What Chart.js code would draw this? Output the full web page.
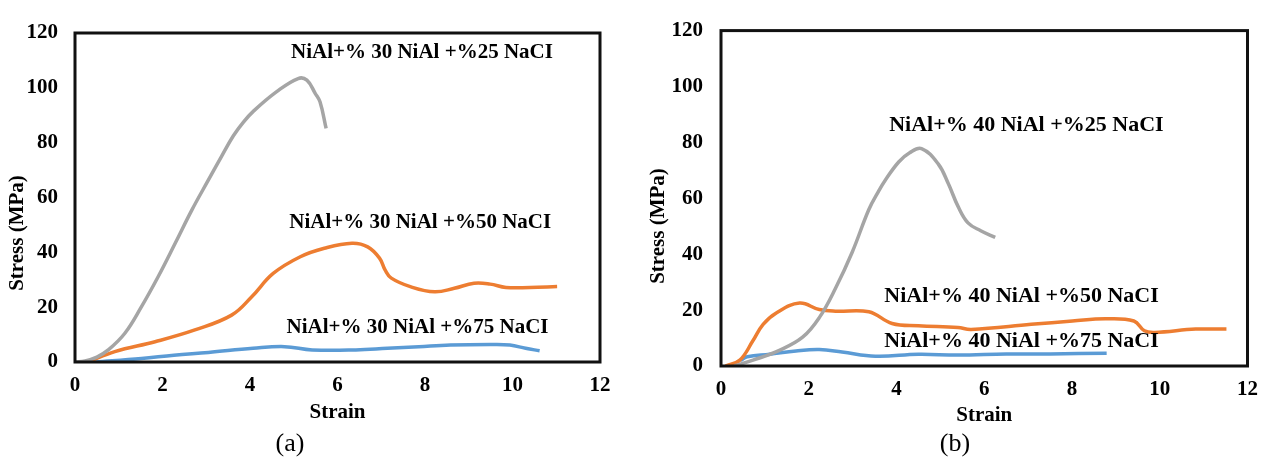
<!DOCTYPE html>
<html>
<head>
<meta charset="utf-8">
<script src="https://cdn.jsdelivr.net/npm/chart.js@4.4.1/dist/chart.umd.min.js"></script>
<style>
  body { margin: 0; background: #fff; width: 1269px; height: 463px; overflow: hidden; position: relative; font-family: "Liberation Serif", "Times New Roman", serif; }
  .box { position: absolute; top: 0; height: 463px; }
  #boxA { left: 0; width: 630px; }
  #boxB { left: 630px; width: 639px; }
  .caption { position: absolute; top: 428px; width: 60px; margin-left: -30px; text-align: center; font-size: 26px; line-height: 30px; color: #000; }
</style>
</head>
<body>
<div class="box" id="boxA"><canvas id="chartA" width="630" height="463"></canvas></div>
<div class="box" id="boxB"><canvas id="chartB" width="639" height="463"></canvas></div>
<div class="caption" style="left:290px">(a)</div>
<div class="caption" style="left:955px">(b)</div>
<script>
// ---- data: strain (x) and stress in MPa (y) ----
const xTicks = [0, 2, 4, 6, 8, 10, 12];
const yTicks = [0, 20, 40, 60, 80, 100, 120];

// (a) NiAl + 30% NiAl
const strainA25 = [0, 0.23, 0.5, 0.76, 1.14, 1.52, 1.9, 2.29, 2.67, 3.05, 3.35, 3.62, 3.85, 4.08, 4.61, 5.1, 5.3, 5.49, 5.6, 5.74];
const stressA25 = [0, 0.4, 1.8, 4.4, 10.5, 20.2, 31.1, 43.3, 55.4, 66.4, 75, 82.5, 87.5, 91.5, 98.6, 103.4, 102.8, 98, 94.9, 85.2];
const strainA50 = [0.3, 0.91, 1.83, 2.74, 3.58, 4.04, 4.53, 5.15, 5.7, 6.33, 6.69, 6.96, 7.09, 7.23, 7.68, 8.22, 8.67, 9.12, 9.49, 9.85, 10.4, 11.02];
const stressA50 = [0, 3.8, 7.4, 11.7, 17.1, 23.8, 32.3, 38.4, 41.5, 43.3, 42, 37.9, 33.5, 30.6, 27.4, 25.6, 26.9, 28.7, 28.4, 27.2, 27.2, 27.5];
const strainA75 = [0.46, 1.52, 2.26, 3.05, 4.07, 4.79, 5.42, 6.42, 7.14, 7.86, 8.58, 9.49, 9.94, 10.3, 10.62];
const stressA75 = [0, 1.3, 2.5, 3.5, 5.0, 5.6, 4.4, 4.4, 5.0, 5.6, 6.2, 6.4, 6.2, 5.0, 4.1];

// (b) NiAl + 40% NiAl
const strainB25 = [0.3, 0.73, 1.33, 1.86, 2.24, 2.61, 2.99, 3.37, 3.59, 3.74, 4.05, 4.3, 4.57, 4.95, 5.18, 5.4, 5.63, 5.92, 6.25];
const stressB25 = [0, 2.1, 5.6, 10.3, 17.3, 27.8, 40.7, 56, 62.5, 66.4, 73, 76.3, 77.8, 72.3, 65.3, 57.2, 51.2, 48.4, 46];
const strainB50 = [0.1, 0.43, 0.73, 0.96, 1.26, 1.79, 2.24, 2.61, 3.37, 3.9, 4.5, 5.4, 5.7, 7.07, 8.01, 8.76, 9.41, 9.65, 9.88, 10.82, 11.52];
const stressB50 = [0, 2.1, 9.1, 14.9, 19, 22.5, 20.2, 19.6, 19.4, 15.2, 14.4, 13.8, 13.1, 14.9, 16.1, 16.9, 16.1, 12.6, 12.0, 13.2, 13.2];
const strainB75 = [0.45, 0.6, 1.11, 1.71, 2.24, 2.76, 3.52, 4.5, 5.4, 6.5, 7.5, 8.79];
const stressB75 = [2.0, 3.3, 4.2, 5.4, 5.9, 5.0, 3.5, 4.2, 3.9, 4.3, 4.3, 4.6];

const labelsA = ["NiAl+% 30 NiAl +%25 NaCI", "NiAl+% 30 NiAl +%50 NaCI", "NiAl+% 30 NiAl +%75 NaCI"];
const labelsB = ["NiAl+% 40 NiAl +%25 NaCI", "NiAl+% 40 NiAl +%50 NaCI", "NiAl+% 40 NiAl +%75 NaCI"];

const GRAY = "#A5A5A5", ORANGE = "#ED7D31", BLUE = "#5B9BD5";
const FONT = "'Liberation Serif', 'Times New Roman', serif";

function pts(xs, ys) {
  return xs.map((x, i) => ({ x: x, y: ys[i] }));
}

function line(label, xs, ys, color) {
  return {
    label: label,
    data: pts(xs, ys),
    borderColor: color,
    backgroundColor: color,
    borderWidth: 3.5,
    pointRadius: 0,
    showLine: true,
    tension: 0.4,
  };
}

// box round the plot area, the in-plot labels and the rotated y title
const decor = {
  id: "decor",
  afterDatasetsDraw(chart, args, opts) {
    const ctx = chart.ctx;
    const a = chart.chartArea;
    const sx = chart.scales.x, sy = chart.scales.y;
    ctx.save();
    ctx.strokeStyle = "#111";
    ctx.lineWidth = 3;
    ctx.strokeRect(a.left, a.top, a.right - a.left, a.bottom - a.top);

    ctx.fillStyle = "#000";
    ctx.textAlign = "center";
    ctx.textBaseline = "middle";
    ctx.font = "bold " + opts.noteSize + "px " + FONT;
    opts.notes.forEach((n) => {
      ctx.fillText(n.text, sx.getPixelForValue(n.x), sy.getPixelForValue(n.y));
    });

    ctx.font = "bold 21px " + FONT;
    ctx.translate(opts.titleX, opts.titleY);
    ctx.rotate(-Math.PI / 2);
    ctx.fillText("Stress (MPa)", 0, 0);
    ctx.restore();
  },
};

function makeChart(id, datasets, lay, decorOpts) {
  return new Chart(document.getElementById(id), {
    type: "scatter",
    data: { datasets: datasets },
    options: {
      responsive: false,
      animation: false,
      layout: { padding: lay.padding },
      plugins: {
        legend: { display: false },
        tooltip: { enabled: false },
        decor: decorOpts,
      },
      scales: {
        x: {
          type: "linear",
          min: 0,
          max: 12,
          afterBuildTicks: (s) => { s.ticks = xTicks.map((v) => ({ value: v })); },
          afterFit: (s) => { s.height = lay.xHeight; },
          grid: { display: false, drawTicks: false },
          border: { display: false },
          ticks: { color: "#000", padding: lay.xPad, font: { family: FONT, size: 21, weight: "bold" } },
          title: { display: true, text: "Strain", color: "#000", padding: 0, font: { family: FONT, size: 21, weight: "bold" } },
        },
        y: {
          type: "linear",
          min: 0,
          max: 120,
          afterBuildTicks: (s) => { s.ticks = yTicks.map((v) => ({ value: v })); },
          afterFit: (s) => { s.width = lay.yWidth; },
          grid: { display: false, drawTicks: false },
          border: { display: false },
          ticks: { color: "#000", padding: lay.yPad, font: { family: FONT, size: 21, weight: "bold" } },
        },
      },
    },
    plugins: [decor],
  });
}

makeChart(
  "chartA",
  [
    line(labelsA[0], strainA25, stressA25, GRAY),
    line(labelsA[1], strainA50, stressA50, ORANGE),
    line(labelsA[2], strainA75, stressA75, BLUE),
  ],
  { padding: { left: 0, top: 33, right: 30, bottom: 38 }, xHeight: 63, yWidth: 75, xPad: 11, yPad: 17 },
  {
    noteSize: 21,
    titleX: 18,
    titleY: 233,
    notes: [
      { text: labelsA[0], x: 7.93, y: 113 },
      { text: labelsA[1], x: 7.89, y: 51 },
      { text: labelsA[2], x: 7.83, y: 12.4 },
    ],
  }
);

makeChart(
  "chartB",
  [
    line(labelsB[0], strainB25, stressB25, GRAY),
    line(labelsB[1], strainB50, stressB50, ORANGE),
    line(labelsB[2], strainB75, stressB75, BLUE),
  ],
  { padding: { left: 0, top: 24, right: 17, bottom: 35 }, xHeight: 62, yWidth: 91, xPad: 11, yPad: 18 },
  {
    noteSize: 22,
    titleX: 29,
    titleY: 226,
    notes: [
      { text: labelsB[0], x: 6.96, y: 86 },
      { text: labelsB[1], x: 6.85, y: 24.9 },
      { text: labelsB[2], x: 6.85, y: 8.9 },
    ],
  }
);
</script>
</body>
</html>
